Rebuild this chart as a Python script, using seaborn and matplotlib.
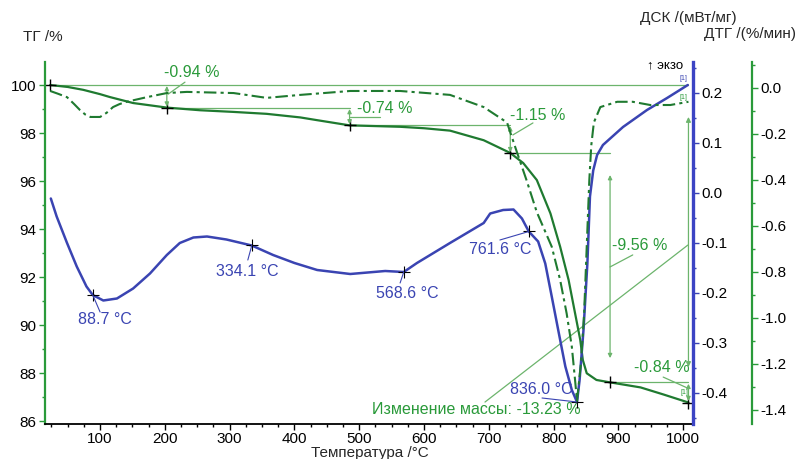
import numpy as np
import pandas as pd
import seaborn as sns
import matplotlib
matplotlib.use('Agg')
from matplotlib import pyplot as plt
from matplotlib.ticker import MultipleLocator, FormatStrFormatter

# TG curve (mass, %)
tg_temp = [23, 50, 74, 100, 115, 151, 203, 254, 306, 357, 409, 434, 485, 563, 600, 640, 692, 733,
           753, 774, 795, 810, 823, 833, 841, 845, 851, 866, 887, 934, 970, 1008]
tg_mass = [100.0, 99.92, 99.8, 99.62, 99.5, 99.25, 99.06, 98.95, 98.88, 98.8, 98.65, 98.54, 98.32,
           98.26, 98.2, 98.1, 97.7, 97.17, 96.75, 96.04, 94.65, 93.26, 91.88, 90.49, 89.38, 88.54,
           87.99, 87.71, 87.61, 87.4, 87.1, 86.77]

# DSC curve (mW/mg)
dsc_temp = [24, 33, 49, 64, 79, 88.7, 105, 126, 151, 177, 203, 223, 244, 265, 295, 334.1, 367, 400,
            435, 486, 540, 568.6, 589, 640, 692, 702, 722, 738, 751, 761.6, 776, 787, 797, 807, 818,
            828, 836, 840, 846, 852, 856, 861, 867, 876, 907, 944, 975, 1007]
dsc_flow = [-0.011, -0.047, -0.10, -0.147, -0.187, -0.204, -0.215, -0.211, -0.191, -0.161, -0.124,
            -0.10, -0.089, -0.087, -0.093, -0.105, -0.124, -0.14, -0.154, -0.162, -0.156, -0.158,
            -0.14, -0.10, -0.06, -0.041, -0.034, -0.033, -0.051, -0.077, -0.097, -0.141, -0.207,
            -0.274, -0.347, -0.394, -0.418, -0.374, -0.274, -0.141, -0.007, 0.045, 0.076, 0.096,
            0.132, 0.166, 0.19, 0.216]

# DTG curve (%/min)
dtg_temp = [23, 35, 49, 60, 69, 77, 85, 100, 110, 120, 130, 141, 172, 203, 234, 306, 357, 409, 486,
            563, 640, 692, 728, 741, 758, 774, 797, 810, 820, 828, 833, 836, 842, 847, 851, 855, 858,
            862, 872, 898, 922, 949, 980, 1008]
dtg_rate = [-0.013, -0.025, -0.04, -0.07, -0.096, -0.115, -0.126, -0.126, -0.108, -0.083, -0.07,
            -0.06, -0.04, -0.022, -0.017, -0.022, -0.043, -0.03, -0.013, -0.013, -0.03, -0.083,
            -0.15, -0.26, -0.40, -0.54, -0.69, -0.835, -0.98, -1.125, -1.27, -1.36, -1.2, -0.98,
            -0.69, -0.40, -0.25, -0.15, -0.083, -0.06, -0.06, -0.074, -0.074, -0.06]

# mass steps
step_temp = [23, 203, 485, 733, 887, 1008]
step_mass = [100.0, 99.06, 98.32, 97.17, 87.61, 86.77]
step_labels = ['-0.94 %', '-0.74 %', '-1.15 %', '-9.56 %', '-0.84 %']
total_label = 'Изменение массы: -13.23 %'

# DSC marked temperatures
peak_temp = [88.7, 334.1, 568.6, 761.6, 836.0]
peak_flow = [-0.204, -0.105, -0.158, -0.077, -0.418]

GREEN_DARK = '#1f7a30'
GREEN = '#2a9a3a'
GREEN_LIGHT = '#6cb46c'
BLUE = '#3a44b2'

sns.set_style('ticks')
plt.rcParams['font.family'] = ['Liberation Sans', 'DejaVu Sans']
plt.rcParams['axes.unicode_minus'] = False

fig = plt.figure(figsize=(7.97, 4.59), dpi=100)
ax = fig.add_axes([45 / 797, 1 - 424 / 459, 648 / 797, 362 / 459])
ax2 = ax.twinx()
ax3 = ax.twinx()

tg = pd.DataFrame({'temp': tg_temp, 'mass': tg_mass})
dsc = pd.DataFrame({'temp': dsc_temp, 'flow': dsc_flow})
dtg = pd.DataFrame({'temp': dtg_temp, 'rate': dtg_rate})

# annotation lines for the mass steps
lw_a = 0.9
ax.plot([step_temp[0], step_temp[-1]], [step_mass[0], step_mass[0]], color=GREEN_LIGHT, lw=lw_a)
for i in range(1, len(step_temp) - 1):
    ax.plot([step_temp[i], step_temp[i + 1]], [step_mass[i], step_mass[i]], color=GREEN_LIGHT, lw=lw_a)

arrow_spans = [(99.96, 99.1), (99.0, 98.36), (98.28, 97.2), (96.25, 88.62), (87.55, 86.83)]
for i, (top, bot) in enumerate(arrow_spans):
    ax.annotate('', xy=(step_temp[i + 1], top), xytext=(step_temp[i + 1], bot),
                arrowprops=dict(arrowstyle='<|-|>', color=GREEN_LIGHT, lw=lw_a,
                                mutation_scale=6, shrinkA=0, shrinkB=0))
ax.annotate('', xy=(step_temp[-1], 98.67), xytext=(step_temp[-1], 88.25),
            arrowprops=dict(arrowstyle='<|-|>', color=GREEN_LIGHT, lw=lw_a,
                            mutation_scale=7, shrinkA=0, shrinkB=0))

label_pos = [(242, 100.54, 'center'), (497, 99.04, 'left'), (733, 98.75, 'left'),
             (890, 93.33, 'left'), (967, 88.21, 'center')]
leaders = [((205, 99.62), (231, 100.12)), ((486, 98.67), (532, 98.67)),
           ((737, 97.92), (768, 98.42)), ((887, 92.42), (922, 92.92)),
           ((969, 87.83), (1006, 87.38))]
for lab, (x, y, ha), (p0, p1) in zip(step_labels, label_pos, leaders):
    ax.text(x, y, lab, color=GREEN, fontsize=11.5, ha=ha, va='center')
    ax.plot([p0[0], p1[0]], [p0[1], p1[1]], color=GREEN_LIGHT, lw=lw_a)

ax.plot([694, 1007], [86.79, 93.33], color=GREEN_LIGHT, lw=lw_a)
ax.text(841, 86.46, total_label, color=GREEN, fontsize=11.5, ha='right', va='center')

sns.lineplot(data=tg, x='temp', y='mass', ax=ax, color=GREEN_DARK, lw=1.6, estimator=None)
ax.plot(step_temp, step_mass, '+', color='black', ms=8, mew=1)

sns.lineplot(data=dtg, x='temp', y='rate', ax=ax3, color=GREEN_DARK, lw=1.5, estimator=None,
             linestyle=(0, (6, 2, 1.5, 2)))

sns.lineplot(data=dsc, x='temp', y='flow', ax=ax2, color=BLUE, lw=1.8, estimator=None)
ax2.plot(peak_temp, peak_flow, '+', color='black', ms=8, mew=0.8)
peak_pos = [(108, -0.254), (327, -0.158), (574, -0.2), (717, -0.114), (781, -0.394)]
peak_lead = [(100, -0.238), (328, -0.134), (563, -0.18), (717, -0.094), (782, -0.41)]
for t, f, (x, y), (lx, ly) in zip(peak_temp, peak_flow, peak_pos, peak_lead):
    ax2.text(x, y, f'{t:.1f} °C', color=BLUE, fontsize=11.5, ha='center', va='center')
    ax2.plot([t, lx], [f, ly], color=BLUE, lw=0.8)

# small markers
ax.text(1000, 100.29, '[1]', color=BLUE, fontsize=5, ha='center', va='center')
ax.text(1000, 99.5, '[1]', color=GREEN, fontsize=5, ha='center', va='center')
ax.text(1002, 87.17, '[1]', color=GREEN, fontsize=5, ha='center', va='center')
ax.text(1000, 100.83, '↑ экзо', color='black', fontsize=9.5, ha='right', va='center')

# axes
ax.set_xlim(15, 1015)
ax.set_ylim(85.875, 100.96)
ax2.set_ylim(-0.462, 0.262)
ax3.set_ylim(-1.461, 0.113)
for a in (ax, ax2, ax3):
    a.set_xlabel('')
    a.set_ylabel('')

ax.set_xticks(np.arange(100, 1001, 100))
ax.xaxis.set_minor_locator(MultipleLocator(25))
ax.yaxis.set_major_locator(MultipleLocator(2))
ax.yaxis.set_minor_locator(MultipleLocator(1))
ax2.yaxis.set_major_locator(MultipleLocator(0.1))
ax2.yaxis.set_minor_locator(MultipleLocator(0.05))
ax2.yaxis.set_major_formatter(FormatStrFormatter('%.1f'))
ax3.yaxis.set_major_locator(MultipleLocator(0.2))
ax3.yaxis.set_minor_locator(MultipleLocator(0.1))
ax3.yaxis.set_major_formatter(FormatStrFormatter('%.1f'))

ax.spines['top'].set_visible(False)
ax.spines['right'].set_visible(False)
ax.spines['left'].set_color(GREEN)
ax.spines['left'].set_linewidth(1.6)
ax.spines['bottom'].set_color('black')
ax.spines['bottom'].set_linewidth(1.3)
for a in (ax2, ax3):
    for s in ('top', 'left', 'bottom'):
        a.spines[s].set_visible(False)
ax2.spines['right'].set_color('#3c44c4')
ax2.spines['right'].set_linewidth(2.4)
ax3.spines['right'].set_position(('outward', 42.5))
ax3.spines['right'].set_color(GREEN)
ax3.spines['right'].set_linewidth(1.6)

ax.tick_params(axis='x', which='major', length=4, width=1, colors='black', labelsize=11, pad=2)
ax.tick_params(axis='x', which='minor', length=2.5, width=1, colors='black')
ax.tick_params(axis='y', which='major', length=4, width=1, colors=GREEN, labelcolor='black',
               labelsize=11, pad=2)
ax.tick_params(axis='y', which='minor', length=2.5, width=1, colors=GREEN)
ax2.tick_params(axis='y', which='major', length=4, width=1, colors=BLUE, labelcolor='black',
                labelsize=11, pad=2)
ax2.tick_params(axis='y', which='minor', length=2.5, width=1, colors=BLUE)
ax3.tick_params(axis='y', which='major', length=4, width=1, colors=GREEN, labelcolor='black',
                labelsize=11, pad=2)
ax3.tick_params(axis='y', which='minor', length=2.5, width=1, colors=GREEN)

fig.text(23 / 797, 1 - 37 / 459, 'ТГ /%', fontsize=11, ha='left', va='center')
fig.text(640 / 797, 1 - 18 / 459, 'ДСК /(мВт/мг)', fontsize=11, ha='left', va='center')
fig.text(796 / 797, 1 - 34 / 459, 'ДТГ /(%/мин)', fontsize=11, ha='right', va='center')
fig.text(370 / 797, 1 - 446 / 459, 'Температура /°C', fontsize=11, ha='center', va='top')

fig.savefig('out.png', dpi=100)
